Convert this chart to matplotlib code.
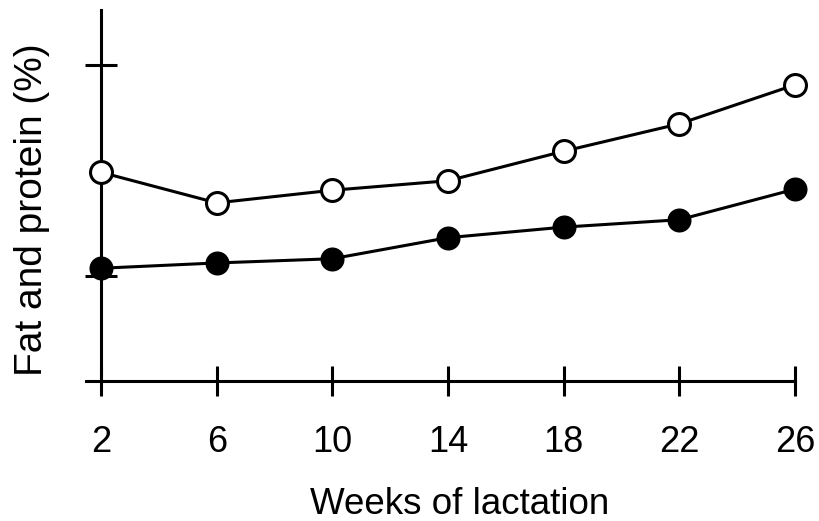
import matplotlib
matplotlib.use("Agg")
import matplotlib.pyplot as plt

plt.rcParams['font.family'] = ['Liberation Sans', 'DejaVu Sans']

weeks = [2, 6, 10, 14, 18, 22, 26]
fat = [3.98, 3.69, 3.81, 3.90, 4.18, 4.44, 4.81]
protein = [3.07, 3.12, 3.16, 3.36, 3.46, 3.53, 3.82]
yticks = [3, 5]

fig = plt.figure(figsize=(8.2, 5.21), dpi=100)
ax = fig.add_axes([86 / 820, 1 - 381 / 521, 709 / 820, 371 / 521])

ax.plot(weeks, fat, '-o', color='black', lw=2.2, ms=15.8, mfc='white',
        mec='black', mew=2.2, clip_on=False, zorder=3)
ax.plot(weeks, protein, '-o', color='black', lw=2.2, ms=16.3, mfc='black',
        mec='black', mew=1, clip_on=False, zorder=3)

ax.set_xlim(1.48, 26)
ax.set_ylim(2.0, 5.52)
ax.spines['left'].set_position(('data', 2))
ax.spines['right'].set_visible(False)
ax.spines['top'].set_visible(False)
for s in ['left', 'bottom']:
    ax.spines[s].set_linewidth(2.2)

ax.set_xticks(weeks)
ax.set_yticks(yticks)
ax.set_yticklabels([])
ax.tick_params(axis='x', direction='inout', length=21, width=2.2,
               labelsize=26, pad=21, colors='black')
ax.tick_params(axis='y', direction='inout', length=23, width=2.2)

ax.set_xlabel("Weeks of lactation", fontsize=26.5, va='center')
ax.xaxis.set_label_coords(0.5275, -0.334)
ax.set_ylabel("Fat and protein (%)", fontsize=28, va='center')
ax.yaxis.set_label_coords(-0.0762, 0.461)

fig.savefig("out.png", dpi=100)
